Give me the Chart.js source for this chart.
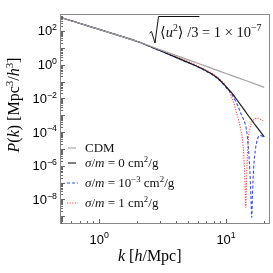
<!DOCTYPE html>
<html><head><meta charset="utf-8">
<script src="https://cdn.jsdelivr.net/npm/chart.js@4"></script>
<style>html,body{margin:0;padding:0;background:#fff;}#wrap{width:273px;height:273px;}</style>
</head><body><div id="wrap"><canvas id="c" width="273" height="273"></canvas></div>
<script>
// ---- data ----
const kCDM = [0.5,0.7,1,1.5,2,3,5,7,10,15,20];
const pCDM = [630,287,125,47.7,23.7,7.9,1.99,0.79,0.30,0.10,0.045];

const kSigma0 = [0.5,0.7,1,1.5,2,3,4,5,6,7,8,9,10,11,12,13,14,15,16,17,18,19,20];
const pSigma0 = [630,287,125,47.7,23.7,6.9,2.83,1.37,0.76,0.416,0.234,0.115,0.049,0.0224,0.0095,0.00416,0.00193,0.00093,0.000484,0.000261,0.000149,8.7e-5,5.2e-5];

const kSigma3 = [0.5,0.7,1,1.5,2,3,4,5,6,7,8,9,10,11,12,12.5,13,13.5,14,14.5,15,15.4,15.7,15.93,16.2,16.5,17,17.5,18,18.5,19,20];
const pSigma3 = [630,287,125,47.7,23.7,6.8,2.75,1.33,0.74,0.40,0.221,0.1086,0.0445,0.0190,0.00594,0.00299,0.00141,7.6e-4,3.83e-4,1.28e-4,1.09e-5,5.3e-7,1.73e-8,8.5e-10,3.4e-8,7.0e-7,8.3e-6,2.83e-5,5.25e-5,6.45e-5,6.0e-5,4.3e-5];

const kSigma1 = [0.5,0.7,1,1.5,2,3,4,5,6,7,8,9,10,10.5,11,11.5,12,12.5,13,13.5,13.8,14.1,14.3,14.5,14.8,15,15.5,16,17,17.5,18,19,20];
const pSigma1 = [630,287,125,47.7,24.4,7.4,3.12,1.53,0.85,0.464,0.261,0.130,0.0532,0.0308,0.0135,0.00555,0.00173,5.78e-4,1.68e-4,3.25e-5,4.16e-6,1.35e-7,3.34e-9,1.35e-7,8.3e-6,4.28e-5,1.93e-4,3.83e-4,6.19e-4,6.8e-4,6.62e-4,5.4e-4,3.83e-4];

const seriesLabels = ['CDM', '*σ*/*m* = 0 cm^{2}/g', '*σ*/*m* = 10^{−3} cm^{2}/g', '*σ*/*m* = 1 cm^{2}/g'];
const xTickValues = [1, 10];
const xTickLabels = ['10^{0}', '10^{1}'];
const yTickValues = [1e-8, 1e-6, 1e-4, 1e-2, 1, 1e2];
const yTickLabels = ['10^{−8}', '10^{−6}', '10^{−4}', '10^{−2}', '10^{0}', '10^{2}'];
const xTitle = '*k* [*h*/Mpc]';
const yTitle = '*P*(*k*) [Mpc^{3}/*h*^{3}]';
const noteRoot = '⟨*u*^{2}⟩ /3';
const noteRest = ' = 1 × 10^{−7}';

// ---- rich text helpers ----
function parseRich(s){
  const runs=[]; let i=0, it=false, buf='';
  const push=()=>{ if(buf){ runs.push({t:buf,it:it,sup:false}); buf=''; } };
  while(i<s.length){
    const c=s[i];
    if(c==='*'){ push(); it=!it; i++; }
    else if(c==='^' && s[i+1]==='{'){ push(); const j=s.indexOf('}',i); runs.push({t:s.slice(i+2,j),it:false,sup:true}); i=j+1; }
    else { buf+=c; i++; }
  }
  push(); return runs;
}
function fontFor(r,size,fam){ const sz=r.sup?size*0.68:size; return (r.it?'italic ':'')+sz.toFixed(1)+'px '+fam; }
function richWidth(ctx,s,size,fam){ let w=0; for(const r of parseRich(s)){ ctx.font=fontFor(r,size,fam); w+=ctx.measureText(r.t).width; } return w; }
function drawRich(ctx,s,x,y,size,fam,align){
  const w=richWidth(ctx,s,size,fam);
  let cx = align==='center'? x-w/2 : align==='right'? x-w : x;
  ctx.textAlign='left'; ctx.textBaseline='alphabetic';
  for(const r of parseRich(s)){
    ctx.font=fontFor(r,size,fam);
    ctx.fillText(r.t,cx,r.sup? y-size*0.4 : y);
    cx+=ctx.measureText(r.t).width;
  }
  return cx;
}
const SANS='"Liberation Sans", Arial, sans-serif';
const SERIF='"Liberation Serif", "DejaVu Serif", serif';

const styles = [
  {color:'#a3a3a3', width:1.2, dash:[]},
  {color:'#1a1a1a', width:1.2, dash:[]},
  {color:'#3050ff', width:1.1, dash:[3,2]},
  {color:'#ff4545', width:1.1, dash:[1.2,1.4]}
];
const legendRowsY = [148, 163, 183, 203];

const decor = {
  id:'decor',
  afterDraw(chart){
    const ctx=chart.ctx, a=chart.chartArea, xs=chart.scales.x, ys=chart.scales.y;
    ctx.save();
    // frame
    ctx.strokeStyle='#8a8a8a'; ctx.lineWidth=1; ctx.setLineDash([]);
    ctx.strokeRect(Math.round(a.left)-0.5, Math.round(a.top)-0.5, Math.round(a.right-a.left)+1, Math.round(a.bottom-a.top)+1);
    // ticks
    ctx.strokeStyle='#666'; ctx.beginPath();
    for(let e=-10;e<=3;e++){
      for(let m=1;m<=9;m++){
        const v=m*Math.pow(10,e);
        if(v>=ys.min&&v<=ys.max){
          const py=Math.round(ys.getPixelForValue(v))+0.5, len=m===1?4:2;
          ctx.moveTo(a.left,py); ctx.lineTo(a.left+len,py);
        }
        if(v>=xs.min&&v<=xs.max){
          const px=Math.round(xs.getPixelForValue(v))+0.5, len=m===1?4:2;
          ctx.moveTo(px,a.bottom); ctx.lineTo(px,a.bottom-len);
        }
      }
    }
    ctx.stroke();
    // tick labels
    ctx.fillStyle='#000';
    yTickValues.forEach((v,i)=>{ const py=ys.getPixelForValue(v); drawRich(ctx,yTickLabels[i],57,py+4.5,13,SANS,'right'); });
    xTickValues.forEach((v,i)=>{ const px=xs.getPixelForValue(v); drawRich(ctx,xTickLabels[i],px,243.5,13,SANS,'center'); });
    // axis titles
    drawRich(ctx,xTitle,118,261,16,SERIF,'left');
    ctx.save(); ctx.translate(19,105); ctx.rotate(-Math.PI/2);
    drawRich(ctx,yTitle,0,0,16,SERIF,'center'); ctx.restore();
    // legend
    chart.data.datasets.forEach((ds,i)=>{
      const y=legendRowsY[i], st=styles[i];
      ctx.strokeStyle=st.color; ctx.lineWidth=1.1; ctx.setLineDash(st.dash);
      ctx.beginPath(); ctx.moveTo(i<2?68:67,y); ctx.lineTo(i<2?76:78,y); ctx.stroke();
      ctx.setLineDash([]); ctx.fillStyle='#111';
      drawRich(ctx,ds.label,85,legendRowsY[i]+4,13,SERIF,'left');
    });
    // annotation with radical
    ctx.fillStyle='#111';
    const end=drawRich(ctx,noteRoot,160,37,14.5,SERIF,'left');
    drawRich(ctx,noteRest,end,37,14.5,SERIF,'left');
    ctx.strokeStyle='#111'; ctx.lineWidth=1; ctx.setLineDash([]);
    ctx.beginPath(); ctx.moveTo(149.5,33); ctx.lineTo(151.5,31.5); ctx.lineTo(155,43); ctx.lineTo(158.5,16.5); ctx.lineTo(end+1,16.5); ctx.stroke();
    ctx.restore();
  }
};

const sets=[[kCDM,pCDM],[kSigma0,pSigma0],[kSigma3,pSigma3],[kSigma1,pSigma1]];
new Chart(document.getElementById('c'),{
  type:'line',
  data:{datasets: sets.map((s,i)=>({
    label:seriesLabels[i],
    data:s[0].map((k,j)=>({x:k,y:s[1][j]})),
    borderColor:styles[i].color, borderWidth:styles[i].width, borderDash:styles[i].dash,
    pointRadius:0, cubicInterpolationMode:'monotone', fill:false
  }))},
  options:{
    responsive:false, animation:false, devicePixelRatio:1,
    layout:{padding:{left:0,right:4,top:15,bottom:0}},
    plugins:{legend:{display:false},tooltip:{enabled:false}},
    scales:{
      x:{type:'logarithmic',min:0.5,max:21.8,ticks:{display:false},grid:{display:false},border:{display:false},afterFit(s){s.height=50;}},
      y:{type:'logarithmic',min:3.98e-10,max:891,ticks:{display:false},grid:{display:false},border:{display:false},afterFit(s){s.width=61;}}
    }
  },
  plugins:[decor]
});
</script></body></html>
